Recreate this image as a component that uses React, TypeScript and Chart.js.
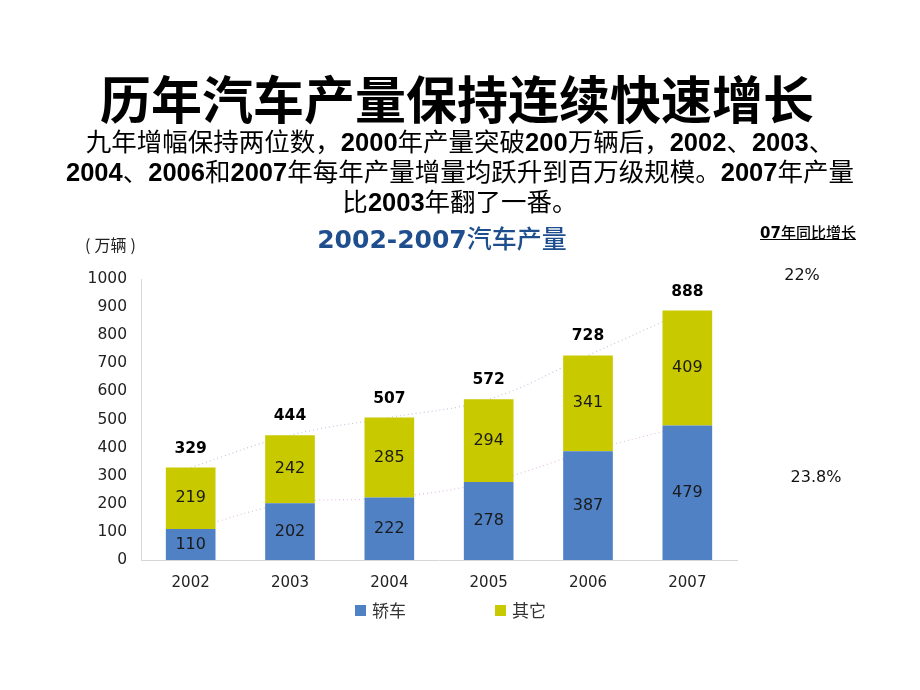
import React, { useEffect, useRef } from "react";
import { Chart, registerables } from "chart.js";

Chart.register(...registerables);

const years = ["2002", "2003", "2004", "2005", "2006", "2007"];
const sedan = [110, 202, 222, 278, 387, 479];
const others = [219, 242, 285, 294, 341, 409];
const totals = [329, 444, 507, 572, 728, 888];
const seriesNames = ["轿车", "其它"];
const growthTitleNum = "07";
const growthTitleText = "年同比增长";
const growthTotal = "22%";
const growthSedan = "23.8%";

const BLUE = "#4f81c4";
const YELLOW = "#c9c900";
const NUM_FONT = "'DejaVu Sans', Verdana, sans-serif";
const CJK_FONT = "'Liberation Sans', 'Noto Sans CJK SC', sans-serif";

const labelPlugin = {
  id: "barLabels",
  afterDatasetsDraw(chart: any) {
    const ctx = chart.ctx;
    ctx.save();
    ctx.textAlign = "center";
    ctx.textBaseline = "middle";
    ctx.fillStyle = "#1a1a1a";
    [0, 1].forEach((di) => {
      const meta = chart.getDatasetMeta(di);
      meta.data.forEach((el: any, i: number) => {
        const p = el.getProps(["x", "y", "base"], true);
        ctx.font = `16px ${NUM_FONT}`;
        ctx.fillText(String(chart.data.datasets[di].data[i]), p.x, (p.y + p.base) / 2);
      });
    });
    const topMeta = chart.getDatasetMeta(1);
    topMeta.data.forEach((el: any, i: number) => {
      const p = el.getProps(["x", "y"], true);
      ctx.font = `bold 15.5px ${NUM_FONT}`;
      ctx.fillStyle = "#000";
      ctx.fillText(String(totals[i]), p.x, p.y - 19);
    });
    ctx.restore();
  },
};

export default function App() {
  const ref = useRef<HTMLCanvasElement | null>(null);

  useEffect(() => {
    if (!ref.current) return;
    const chart = new Chart(ref.current, {
      type: "bar",
      data: {
        labels: years,
        datasets: [
          {
            type: "bar",
            label: seriesNames[0],
            data: sedan,
            backgroundColor: BLUE,
            barPercentage: 0.5,
            categoryPercentage: 1,
            order: 0,
          },
          {
            type: "bar",
            label: seriesNames[1],
            data: others,
            backgroundColor: YELLOW,
            barPercentage: 0.5,
            categoryPercentage: 1,
            order: 0,
          },
          {
            type: "line",
            label: "total-trend",
            data: totals,
            yAxisID: "y2",
            borderColor: "#c3c8dc",
            borderDash: [1, 3],
            borderWidth: 1.2,
            pointRadius: 0,
            tension: 0.4,
            fill: false,
            order: 1,
          } as any,
          {
            type: "line",
            label: "sedan-trend",
            data: sedan,
            yAxisID: "y2",
            borderColor: "#e2c2e2",
            borderDash: [1, 3],
            borderWidth: 1.2,
            pointRadius: 0,
            tension: 0.4,
            fill: false,
            order: 1,
          } as any,
        ],
      },
      options: {
        responsive: false,
        animation: false,
        layout: { padding: { left: 81, right: 183, top: 279, bottom: 0 } },
        plugins: {
          legend: { display: false },
          tooltip: { enabled: false },
        },
        scales: {
          x: {
            stacked: true,
            grid: { display: false, drawTicks: false },
            border: { display: true, color: "#d6d6d6", dash: [1, 2] },
            ticks: {
              color: "#222",
              font: { family: NUM_FONT, size: 15 },
              padding: 14,
              maxRotation: 0,
            },
            afterFit: (s: any) => {
              s.height = 130;
            },
          },
          y: {
            stacked: true,
            min: 0,
            max: 1000,
            grid: { display: false, drawTicks: false },
            border: { display: true, color: "#d6d6d6", dash: [1, 2] },
            ticks: {
              stepSize: 100,
              color: "#222",
              font: { family: NUM_FONT, size: 15.5 },
              padding: 14,
              callback: (v: any) => String(v),
            },
            afterFit: (s: any) => {
              s.width = 60;
            },
          },
          y2: {
            display: false,
            min: 0,
            max: 1000,
          },
        },
      },
      plugins: [labelPlugin],
    });
    return () => chart.destroy();
  }, []);

  const abs: React.CSSProperties = { position: "absolute", margin: 0, whiteSpace: "nowrap" };

  return (
    <div style={{ position: "absolute", left: 0, top: 0, width: 920, height: 690, background: "#fff", overflow: "hidden" }}>
      <canvas ref={ref} width={920} height={690} style={{ position: "absolute", left: 0, top: 0, display: "block" }} />
      <div
        style={{
          ...abs,
          left: 0,
          top: 67,
          width: 914,
          textAlign: "center",
          fontFamily: "'Noto Sans CJK SC', sans-serif",
          fontWeight: 700,
          fontSize: 51,
          lineHeight: "60px",
          color: "#000",
        }}
      >
        历年汽车产量保持连续快速增长
      </div>
      <div
        style={{
          ...abs,
          left: 0,
          top: 127,
          width: 920,
          textAlign: "center",
          fontFamily: CJK_FONT,
          fontSize: 25.5,
          lineHeight: "30px",
          color: "#000",
        }}
      >
        <div>
          九年增幅保持两位数，<b>2000</b>年产量突破<b>200</b>万辆后，<b>2002</b>、<b>2003</b>、
        </div>
        <div>
          <b>2004</b>、<b>2006</b>和<b>2007</b>年每年产量增量均跃升到百万级规模。<b>2007</b>年产量
        </div>
        <div>
          比<b>2003</b>年翻了一番。
        </div>
      </div>
      <div
        style={{
          ...abs,
          left: 0,
          top: 222,
          width: 884,
          textAlign: "center",
          fontSize: 25,
          lineHeight: "30px",
          color: "#1f4e8f",
        }}
      >
        <span style={{ fontFamily: NUM_FONT, fontWeight: 700 }}>2002-2007</span>
        <span style={{ fontFamily: "'Noto Sans CJK SC', sans-serif", fontWeight: 500 }}>汽车产量</span>
      </div>
      <div style={{ ...abs, left: 85, top: 233, fontFamily: "'Noto Sans CJK SC', sans-serif", fontSize: 16, lineHeight: "22px", color: "#222" }}>
        <span style={{ marginRight: 4 }}>(</span>万辆<span style={{ marginLeft: 4 }}>)</span>
      </div>
      <div
        style={{
          ...abs,
          left: 708,
          top: 222,
          width: 200,
          textAlign: "center",
          fontSize: 15,
          lineHeight: "20px",
          textDecoration: "underline",
          color: "#000",
        }}
      >
        <span style={{ fontFamily: NUM_FONT, fontWeight: 700 }}>{growthTitleNum}</span>
        <span style={{ fontFamily: "'Noto Sans CJK SC', sans-serif", fontWeight: 500 }}>{growthTitleText}</span>
      </div>
      <div style={{ ...abs, left: 702, top: 265, width: 200, textAlign: "center", fontFamily: NUM_FONT, fontSize: 16, lineHeight: "20px", color: "#111" }}>
        {growthTotal}
      </div>
      <div style={{ ...abs, left: 716, top: 467, width: 200, textAlign: "center", fontFamily: NUM_FONT, fontSize: 16, lineHeight: "20px", color: "#111" }}>
        {growthSedan}
      </div>
      <div style={{ ...abs, left: 355, top: 600, display: "flex", alignItems: "center", fontFamily: "'Noto Sans CJK SC', sans-serif", fontSize: 17, lineHeight: "20px", color: "#333" }}>
        <span style={{ display: "inline-block", width: 11, height: 11, background: BLUE, marginRight: 6 }} />
        <span>{seriesNames[0]}</span>
      </div>
      <div style={{ ...abs, left: 495, top: 600, display: "flex", alignItems: "center", fontFamily: "'Noto Sans CJK SC', sans-serif", fontSize: 17, lineHeight: "20px", color: "#333" }}>
        <span style={{ display: "inline-block", width: 11, height: 11, background: YELLOW, marginRight: 6 }} />
        <span>{seriesNames[1]}</span>
      </div>
    </div>
  );
}
